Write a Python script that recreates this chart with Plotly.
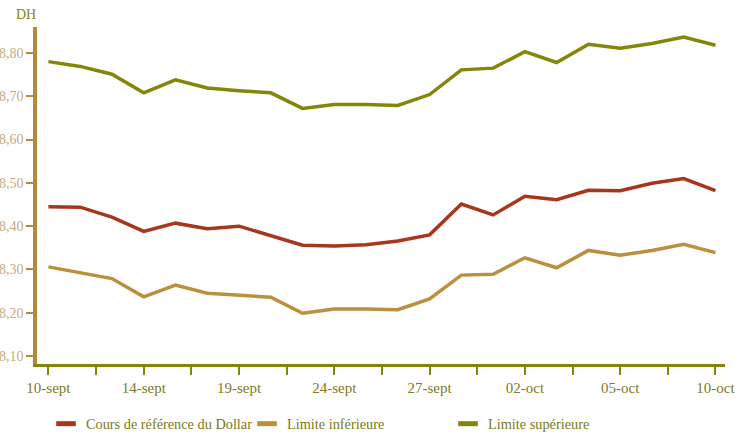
import plotly.graph_objects as go

dates = ["10-sept", "11-sept", "13-sept", "14-sept", "17-sept", "18-sept", "19-sept",
         "20-sept", "21-sept", "24-sept", "25-sept", "26-sept", "27-sept", "28-sept",
         "01-oct", "02-oct", "03-oct", "04-oct", "05-oct", "08-oct", "09-oct", "10-oct"]

cours_ref = [8.445, 8.444, 8.421, 8.388, 8.407, 8.394, 8.400, 8.377, 8.356, 8.354, 8.357,
             8.366, 8.380, 8.451, 8.426, 8.469, 8.461, 8.483, 8.482, 8.499, 8.510, 8.482]
limite_inf = [8.306, 8.292, 8.279, 8.237, 8.264, 8.245, 8.241, 8.236, 8.199, 8.209, 8.209,
              8.207, 8.232, 8.287, 8.289, 8.327, 8.304, 8.344, 8.333, 8.344, 8.358, 8.339]
limite_sup = [8.780, 8.769, 8.751, 8.708, 8.738, 8.719, 8.713, 8.708, 8.672, 8.681, 8.681,
              8.679, 8.704, 8.761, 8.765, 8.803, 8.778, 8.820, 8.811, 8.822, 8.837, 8.818]

names = ["Cours de référence du Dollar", "Limite inférieure", "Limite supérieure"]
colors = ["#A8361A", "#BA903C", "#85850A"]
series = [cours_ref, limite_inf, limite_sup]

x = list(range(len(dates)))
tick_pos = [i * 1.5 for i in range(15)]
tick_txt = [dates[int(p)] if i % 2 == 0 else "" for i, p in enumerate(tick_pos)]

SERIF = "Liberation Serif"

fig = go.Figure()
for name, col, vals in zip(names, colors, series):
    fig.add_trace(go.Scatter(x=x, y=vals, mode="lines", name=name, showlegend=False,
                             customdata=dates, hovertemplate="%{customdata}: %{y:.3f}<extra>" + name + "</extra>",
                             line=dict(color=col, width=3.5)))
for name, col in zip(names, colors):
    fig.add_trace(go.Scatter(x=[None], y=[None], mode="markers", name=name,
                             marker=dict(symbol="line-ew", size=14, color=col,
                                         line=dict(width=5, color=col))))

fig.update_layout(
    width=748, height=437,
    margin=dict(l=37, r=23, t=27, b=71),
    paper_bgcolor="white", plot_bgcolor="white",
    separators=", ",
    font=dict(family=SERIF, size=15),
    showlegend=True,
    legend=dict(orientation="h", xref="container", yref="container",
                x=0.0615, y=0.03, xanchor="left", yanchor="middle",
                entrywidth=156, entrywidthmode="pixels",
                font=dict(family=SERIF, size=14.3, color="#7A7A12"), itemwidth=30,
                bgcolor="rgba(0,0,0,0)"),
    annotations=[dict(text="DH", xref="paper", yref="paper", x=0, y=1,
                      xanchor="center", yanchor="bottom", xshift=-11, yshift=3,
                      showarrow=False, font=dict(family=SERIF, size=14, color="#85850A"))],
)
fig.update_xaxes(range=[-0.36, 21.3], tickmode="array", tickvals=tick_pos, ticktext=tick_txt,
                 showgrid=False, zeroline=False, showline=True, linecolor="#85850A", linewidth=3,
                 ticks="outside", ticklen=8, tickwidth=1.5, tickcolor="#85850A",
                 tickfont=dict(family=SERIF, size=15, color="#7D7A1E"))
fig.update_yaxes(range=[8.082, 8.86], tickmode="linear", tick0=8.1, dtick=0.1, tickformat=".2f",
                 showgrid=False, zeroline=False, showline=True, linecolor="#B08A3A", linewidth=3.5,
                 ticks="outside", ticklen=7, tickwidth=2, tickcolor="#B08A3A",
                 tickfont=dict(family=SERIF, size=14, color="#C2AC78"), automargin=False)

fig.write_html("out.html", config={"displayModeBar": False},
               post_script="document.body.style.margin='0';")
